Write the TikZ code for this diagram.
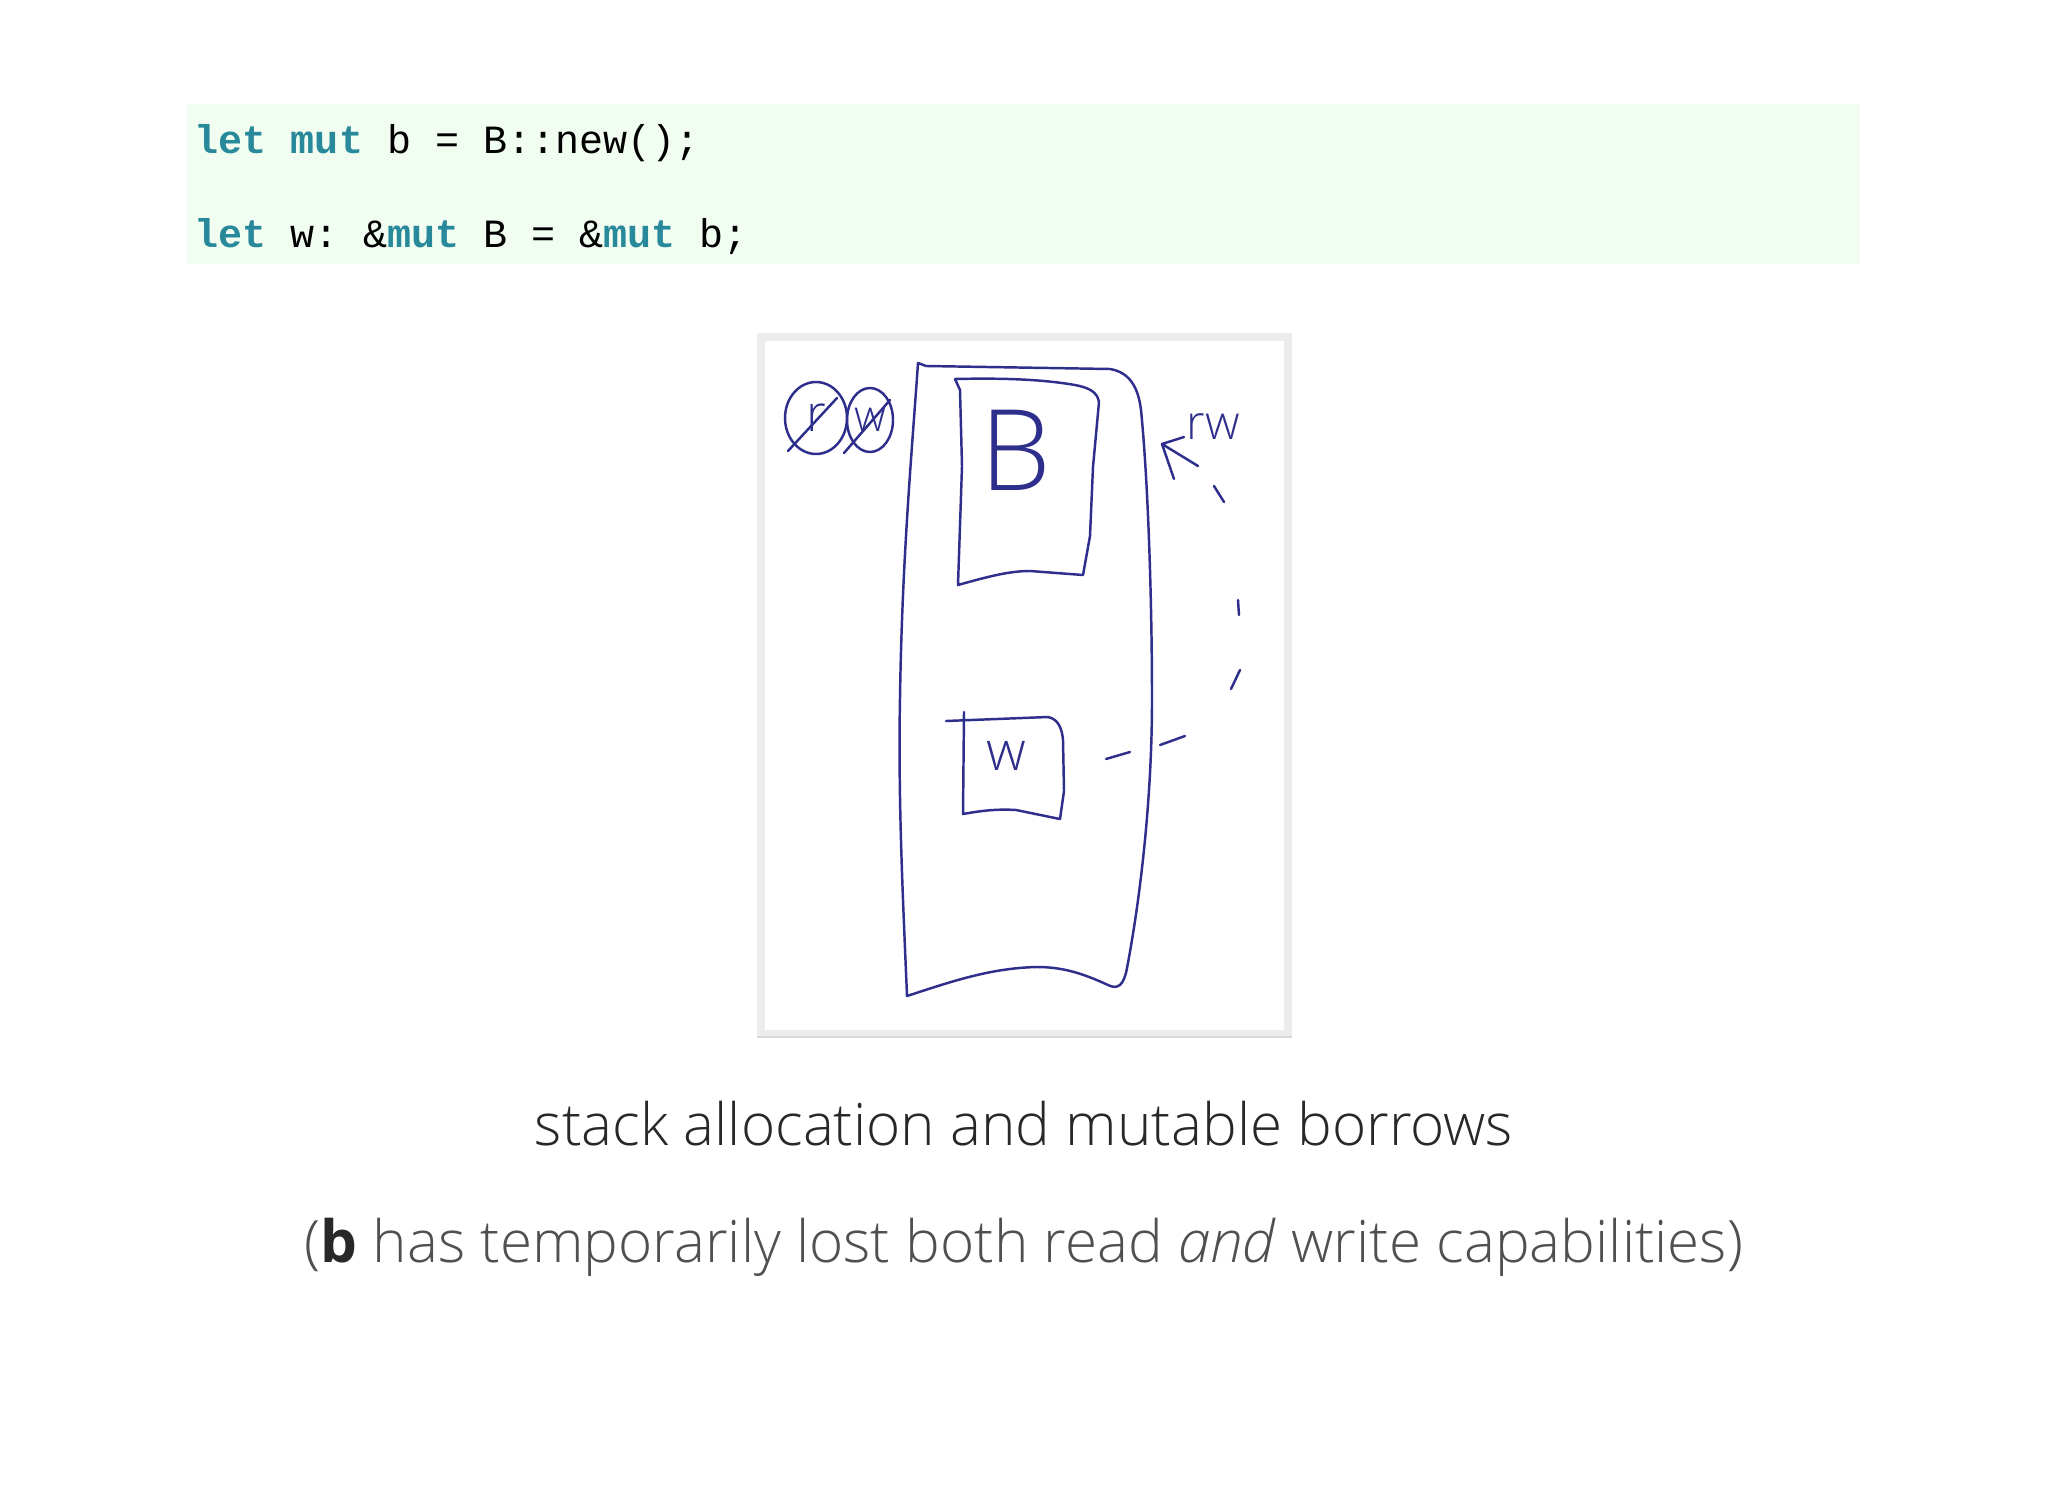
\documentclass[tikz,border=0pt]{standalone}
\usepackage{fontspec}
\setmonofont{Liberation Mono}
\IfFontExistsTF{Open Sans Light}
  {\newfontfamily\capfont{Open Sans Light}}
  {\newfontfamily\capfont{Open Sans}}
\IfFontExistsTF{Open Sans SemiBold}
  {\newfontfamily\boldcap{Open Sans SemiBold}}
  {\newfontfamily\boldcap{Open Sans}[UprightFont=*-Bold]}
\definecolor{ink}{RGB}{46,46,140}
\definecolor{kwcol}{RGB}{40,137,155}
\definecolor{codebg}{RGB}{242,253,242}
\definecolor{framegray}{RGB}{236,236,236}
\definecolor{captxt}{RGB}{40,40,40}
\definecolor{subtxt}{RGB}{80,80,80}
\newcommand\kw[1]{\textbf{\color{kwcol}#1}}
\begin{document}
\begin{tikzpicture}[x=0.01cm,y=-0.01cm,
    pen/.style={draw=ink,line width=0.7pt,line cap=round,line join=round},
    code/.style={anchor=base west,inner sep=0pt,font=\ttfamily\fontsize{11.4pt}{13pt}\selectfont},
    captext/.style={anchor=base,inner sep=0pt,font=\capfont\fontsize{16.6pt}{19pt}\selectfont},
    hand/.style={inner sep=0pt,text=ink,font=\capfont}]
    \useasboundingbox (0,0) rectangle (2048,1494);
    \fill[white] (0,0) rectangle (2048,1494);
    \fill[codebg] (187,104) rectangle (1860,264);
    \node[code] (line1) at (194,154) {\kw{let} \kw{mut} b = B::new();};
    \node[code] (line2) at (194,248) {\kw{let} w: \&\kw{mut} B = \&\kw{mut} b;};
    \draw[framegray,line width=0.08cm] (761,337) rectangle (1288,1034);
    \draw[black!15,line width=0.4pt] (757,1037) -- (1292,1037);
    \draw[pen] (926,366) -- (1110,369) .. controls (1128,372) and (1138,385) .. (1141,410)
        .. controls (1148,480) and (1152,600) .. (1152,700)
        .. controls (1152,800) and (1140,900) .. (1127,968)
        .. controls (1124,985) and (1118,990) .. (1108,985)
        .. controls (1080,972) and (1060,967) .. (1037,967)
        .. controls (990,968) and (950,982) .. (907,996)
        .. controls (903,900) and (898,800) .. (900,698)
        .. controls (902,560) and (912,450) .. (918,363) -- (926,366);
    \draw[pen] (955,379) -- (960,390) -- (962,466) -- (958,585)
        .. controls (990,576) and (1010,571) .. (1030,571) -- (1083,575)
        -- (1090,536) -- (1093,467) -- (1099,402)
        .. controls (1097,392) and (1090,388) .. (1075,385)
        .. controls (1040,379) and (1000,378) .. (955,379);
    \draw[pen] (964,712) -- (963,814) .. controls (985,810) and (1000,809) .. (1016,810)
        -- (1055,818) -- (1060,819) -- (1064,791) -- (1063,740)
        .. controls (1062,728) and (1058,719) .. (1048,717) -- (946,721);
    \node[hand,font=\capfont\fontsize{32pt}{36pt}\selectfont] (bval) at (1016,450) {B};
    \node[hand,font=\capfont\fontsize{15.6pt}{18pt}\selectfont] (wref) at (1006,756) {w};
    \node[hand,font=\capfont\fontsize{13.6pt}{16pt}\selectfont] (rw) at (1213,427) {rw};
    \node[hand,font=\capfont\fontsize{14.5pt}{17pt}\selectfont] (rlost) at (816,418) {r};
    \node[hand,font=\capfont\fontsize{12.5pt}{15pt}\selectfont] (wlost) at (870,420) {w};
    \draw[pen] (rlost) ellipse [x radius=31,y radius=36];
    \draw[pen] (wlost) ellipse [x radius=23,y radius=32];
    \draw[pen] (788,451) -- (837,398);
    \draw[pen] (844,453) -- (890,400);
    \coordinate (from) at (1106,759);
    \coordinate (tip) at (1162,444);
    \draw[pen] (from) -- (1130,752);
    \foreach \a/\b in {{1160,745}/{1185,736},{1231,689}/{1240,670},{1238,600}/{1239,615},{1214,486}/{1224,502}}
        \draw[pen] (\a) -- (\b);
    \draw[pen] (1198,466) -- (tip) -- (1184,437);
    \draw[pen] (tip) -- (1174,479);
    \node[captext,text=captxt] (title) at (1024,1145) {stack allocation and mutable borrows};
    \node[captext,text=subtxt] (note) at (1024,1262)
        {({\boldcap\color{captxt}b} has temporarily lost both read \textit{and} write capabilities)};
\end{tikzpicture}
\end{document}
